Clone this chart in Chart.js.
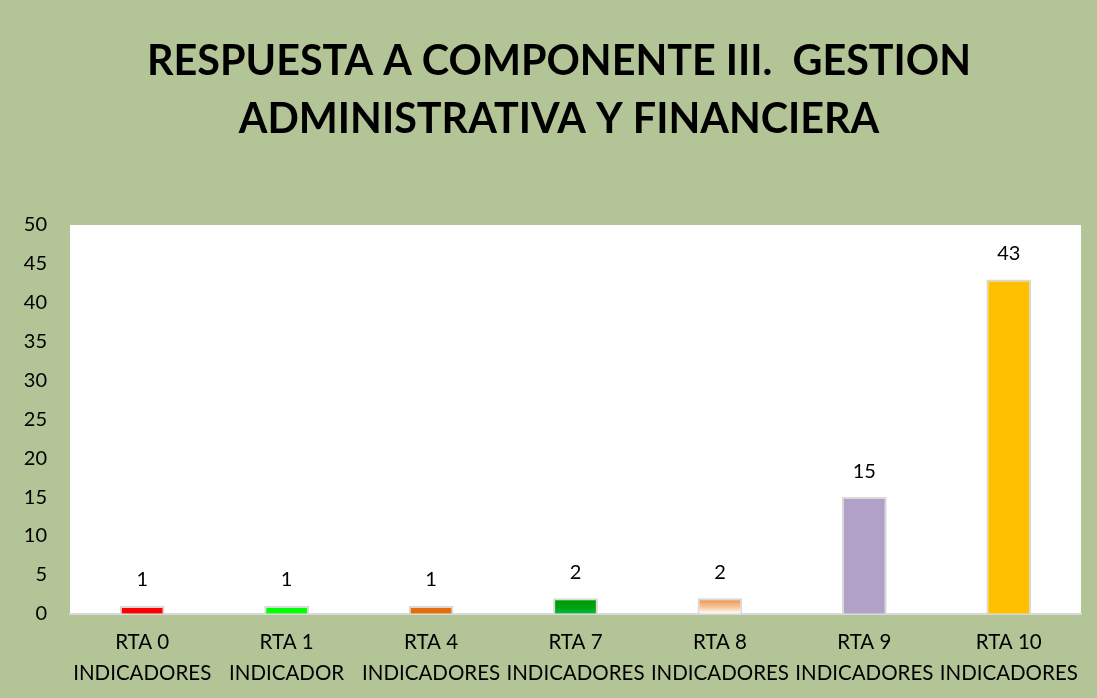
<!DOCTYPE html>
<html>
<head>
<meta charset="utf-8">
<script src="https://cdn.jsdelivr.net/npm/chart.js@4.4.0/dist/chart.umd.min.js"></script>
<style>
  html, body { margin: 0; padding: 0; background: #B3C496; }
  #wrap { width: 1097px; height: 698px; }
</style>
</head>
<body>
<div id="wrap"><canvas id="barChart" width="1097" height="698"></canvas></div>
<script>
// Datos del gráfico
const categorias = [
    ['RTA 0', 'INDICADORES'],
    ['RTA 1', 'INDICADOR'],
    ['RTA 4', 'INDICADORES'],
    ['RTA 7', 'INDICADORES'],
    ['RTA 8', 'INDICADORES'],
    ['RTA 9', 'INDICADORES'],
    ['RTA 10', 'INDICADORES']
];
const valores = [1, 1, 1, 2, 2, 15, 43];
const colores = ['#FF0000', '#00FF00', '#E46C0A', 'verde', 'naranja', '#B2A1C7', '#FFC000'];
const titulo = ['RESPUESTA A COMPONENTE III.  GESTION', 'ADMINISTRATIVA Y FINANCIERA'];

const fuente = 'Lato, "Open Sans", sans-serif';

// Colores con degradado para RTA 7 y RTA 8
function colorBarra(context) {
    const c = colores[context.dataIndex];
    if (c !== 'verde' && c !== 'naranja') return c;
    const chart = context.chart;
    const y = chart.scales && chart.scales.y;
    if (!y || y.top === undefined) return c === 'verde' ? '#009a10' : '#F79646';
    const top = y.getPixelForValue(valores[context.dataIndex]);
    const base = y.getPixelForValue(0);
    const g = chart.ctx.createLinearGradient(0, top, 0, base);
    if (c === 'verde') {
        g.addColorStop(0, '#009a00');
        g.addColorStop(0.6, '#00a010');
        g.addColorStop(1, '#00c040');
    } else {
        g.addColorStop(0, '#F0893A');
        g.addColorStop(0.6, '#F8C9A0');
        g.addColorStop(1, '#FFFFFF');
    }
    return g;
}

// Fondo blanco del área de trazado
const fondoArea = {
    id: 'fondoArea',
    beforeDraw(chart) {
        const a = chart.chartArea;
        const ctx = chart.ctx;
        ctx.save();
        ctx.fillStyle = '#FFFFFF';
        ctx.fillRect(a.left, a.top, a.right - a.left, a.bottom - a.top);
        ctx.restore();
    }
};

// Título en dos líneas, centrado como en el original
const tituloPlugin = {
    id: 'tituloPlugin',
    afterDraw(chart) {
        const ctx = chart.ctx;
        ctx.save();
        ctx.font = 'bold 41.3px ' + fuente;
        ctx.fillStyle = '#000000';
        ctx.textAlign = 'center';
        ctx.textBaseline = 'middle';
        titulo.forEach(function (linea, i) {
            ctx.fillText(linea, 559, 62 + i * 58);
        });
        ctx.restore();
    }
};

// Etiquetas de valor encima de cada barra
const etiquetas = {
    id: 'etiquetas',
    afterDatasetsDraw(chart) {
        const ctx = chart.ctx;
        const meta = chart.getDatasetMeta(0);
        ctx.save();
        ctx.font = '20px ' + fuente;
        ctx.fillStyle = '#000000';
        ctx.textAlign = 'center';
        ctx.textBaseline = 'middle';
        meta.data.forEach(function (bar, i) {
            ctx.fillText(String(valores[i]), bar.x, bar.y - 26);
        });
        ctx.restore();
    }
};

const ctx = document.getElementById('barChart').getContext('2d');
const grafico = new Chart(ctx, {
    type: 'bar',
    data: {
        labels: categorias,
        datasets: [{
            data: valores,
            backgroundColor: colorBarra,
            borderColor: '#D9D9D9',
            borderWidth: 2,
            barPercentage: 0.31,
            categoryPercentage: 1
        }]
    },
    options: {
        responsive: false,
        animation: false,
        layout: { padding: { left: 0, right: 16, top: 225, bottom: -4 } },
        plugins: {
            legend: { display: false },
            tooltip: { enabled: false },
            title: { display: false }
        },
        scales: {
            x: {
                grid: { display: false, drawTicks: false },
                border: { display: true, color: '#D9D9D9', width: 2 },
                ticks: {
                    color: '#000000',
                    font: { family: fuente, size: 20.5, lineHeight: 1.47 },
                    padding: 14,
                    maxRotation: 0,
                    autoSkip: false
                }
            },
            y: {
                min: 0,
                max: 50,
                grid: { display: false, drawTicks: false },
                border: { display: false },
                afterFit(scale) { scale.width = 70; },
                ticks: {
                    stepSize: 5,
                    color: '#000000',
                    font: { family: fuente, size: 20 },
                    padding: 23
                }
            }
        }
    },
    plugins: [fondoArea, etiquetas, tituloPlugin]
});
</script>
</body>
</html>
